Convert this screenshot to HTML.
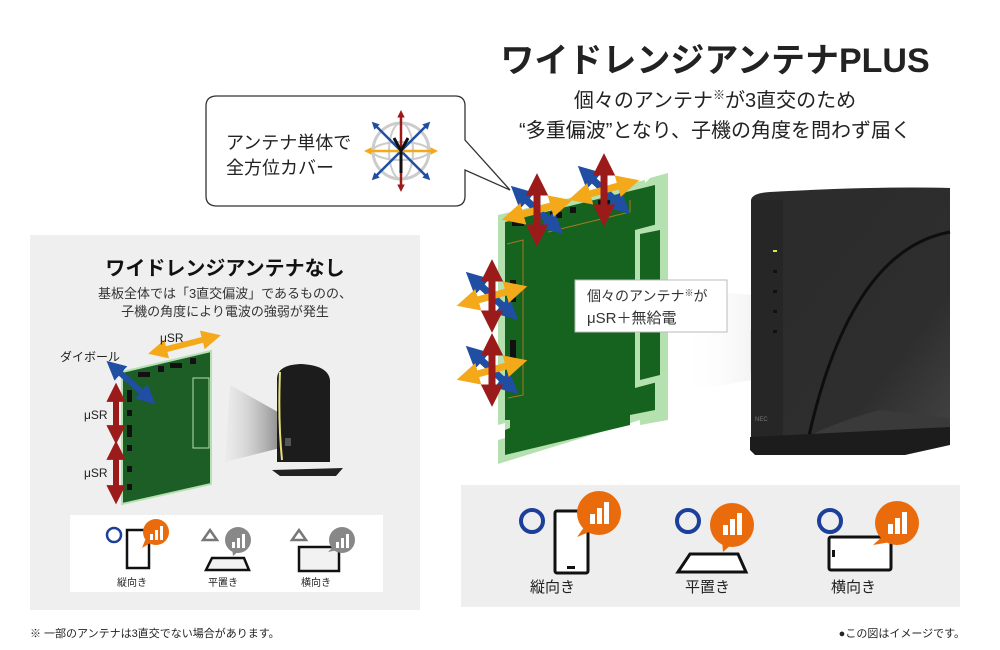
<!DOCTYPE html>
<html><head><meta charset="utf-8"><style>
html,body{margin:0;padding:0;background:#fff}
svg{display:block}
text{font-family:"Liberation Sans","Noto Sans CJK JP",sans-serif}
</style></head><body>
<svg width="1000" height="650" viewBox="0 0 1000 650" xmlns="http://www.w3.org/2000/svg">
<defs>
<marker id="hr" viewBox="0 0 10 10" refX="2" refY="5" markerWidth="3.2" markerHeight="3.2" orient="auto-start-reverse"><path d="M0,0L10,5L0,10z" fill="#9b1b1b"/></marker>
<marker id="hb" viewBox="0 0 10 10" refX="2" refY="5" markerWidth="3.2" markerHeight="3.2" orient="auto-start-reverse"><path d="M0,0L10,5L0,10z" fill="#1f4ea3"/></marker>
<marker id="ho" viewBox="0 0 10 10" refX="2" refY="5" markerWidth="3.2" markerHeight="3.2" orient="auto-start-reverse"><path d="M0,0L10,5L0,10z" fill="#f3a91a"/></marker>
<marker id="gr" viewBox="0 0 10 10" refX="2" refY="5" markerWidth="3" markerHeight="3" orient="auto-start-reverse"><path d="M0,0L10,5L0,10z" fill="#9b1b1b"/></marker>
<marker id="gb" viewBox="0 0 10 10" refX="2" refY="5" markerWidth="3" markerHeight="3" orient="auto-start-reverse"><path d="M0,0L10,5L0,10z" fill="#1f4ea3"/></marker>
<marker id="go" viewBox="0 0 10 10" refX="2" refY="5" markerWidth="3" markerHeight="3" orient="auto-start-reverse"><path d="M0,0L10,5L0,10z" fill="#f3a91a"/></marker>
<marker id="sr" viewBox="0 0 10 10" refX="2" refY="5" markerWidth="3.2" markerHeight="3.2" orient="auto-start-reverse"><path d="M0,0L10,5L0,10z" fill="#9b1b1b"/></marker>
<marker id="sb" viewBox="0 0 10 10" refX="2" refY="5" markerWidth="3.2" markerHeight="3.2" orient="auto-start-reverse"><path d="M0,0L10,5L0,10z" fill="#1f4ea3"/></marker>
<marker id="so" viewBox="0 0 10 10" refX="2" refY="5" markerWidth="3.2" markerHeight="3.2" orient="auto-start-reverse"><path d="M0,0L10,5L0,10z" fill="#f3a91a"/></marker>
<linearGradient id="cone" x1="0" x2="1"><stop offset="0" stop-color="#fff" stop-opacity="0"/><stop offset="1" stop-color="#e0e0e0"/></linearGradient>
<linearGradient id="cone2" x1="0" x2="1"><stop offset="0" stop-color="#ddd" stop-opacity="0.2"/><stop offset="1" stop-color="#666"/></linearGradient>
<linearGradient id="rt" x1="0" x2="1" y1="0" y2="1"><stop offset="0" stop-color="#2b2b2b"/><stop offset="0.7" stop-color="#2e2e2e"/><stop offset="1" stop-color="#444"/></linearGradient>
<g id="arr">
<line x1="-13" y1="-12" x2="13" y2="12" stroke="#1f4ea3" stroke-width="7" marker-start="url(#hb)" marker-end="url(#hb)"/>
<line x1="-18" y1="5" x2="18" y2="-5" stroke="#f3a91a" stroke-width="7" marker-start="url(#ho)" marker-end="url(#ho)"/>
<line x1="0" y1="-19" x2="0" y2="19" stroke="#9b1b1b" stroke-width="7" marker-start="url(#hr)" marker-end="url(#hr)"/>
</g>
</defs>

<text x="715" y="72" text-anchor="middle" font-size="34" font-weight="bold" fill="#222">ワイドレンジアンテナPLUS</text>
<text x="715" y="107" text-anchor="middle" font-size="20" fill="#222">個々のアンテナ<tspan font-size="12" dy="-8">※</tspan><tspan dy="8">が3直交のため</tspan></text>
<text x="715" y="137" text-anchor="middle" font-size="20" fill="#222">“多重偏波”となり、子機の角度を問わず届く</text>

<path d="M217,96 H455 Q465,96 465,106 V140 L510,190 L465,170 V196 Q465,206 455,206 H217 Q206,206 206,196 V106 Q206,96 217,96Z" fill="#fff" stroke="#333" stroke-width="1.3"/>
<text x="226" y="149" font-size="18" fill="#222">アンテナ単体で</text>
<text x="226" y="174" font-size="18" fill="#222">全方位カバー</text>
<g transform="translate(401,151)">
<circle r="28" fill="none" stroke="#ccc" stroke-width="3"/>
<ellipse rx="12" ry="28" fill="none" stroke="#ccc" stroke-width="2"/>
<ellipse rx="28" ry="9" fill="none" stroke="#ccc" stroke-width="2"/>
<line x1="-25" y1="-25" x2="25" y2="25" stroke="#1f4ea3" stroke-width="2.5" marker-start="url(#gb)" marker-end="url(#gb)"/>
<line x1="25" y1="-25" x2="-25" y2="25" stroke="#1f4ea3" stroke-width="2.5" marker-start="url(#gb)" marker-end="url(#gb)"/>
<line x1="-31" y1="0" x2="31" y2="0" stroke="#f3a91a" stroke-width="2.5" marker-start="url(#go)" marker-end="url(#go)"/>
<line x1="0" y1="-35" x2="0" y2="35" stroke="#9b1b1b" stroke-width="2.5" marker-start="url(#gr)" marker-end="url(#gr)"/>
<path d="M-7,-13 L0,0 L7,-13 M0,-1 V22" stroke="#111" stroke-width="3" fill="none"/>
</g>

<rect x="30" y="235" width="390" height="375" fill="#efefef"/>
<text x="225" y="275" text-anchor="middle" font-size="20" font-weight="bold" fill="#111">ワイドレンジアンテナなし</text>
<text x="225" y="298" text-anchor="middle" font-size="13" fill="#333">基板全体では「3直交偏波」であるものの、</text>
<text x="225" y="316" text-anchor="middle" font-size="13" fill="#333">子機の角度により電波の強弱が発生</text>
<polygon points="230,385 292,420 292,445 225,462" fill="url(#cone2)"/>
<polygon points="122,372 211,351 211,484 122,504" fill="#1c5e26" stroke="#b5e0b0" stroke-width="2"/>
<rect x="193" y="378" width="16" height="70" fill="none" stroke="#b5e0b0" stroke-width="1"/>
<g fill="#111"><rect x="138" y="372" width="12" height="5"/><rect x="158" y="366" width="6" height="6"/><rect x="170" y="363" width="12" height="5"/><rect x="190" y="358" width="6" height="6"/>
<rect x="127" y="390" width="5" height="12"/><rect x="127" y="410" width="5" height="6"/><rect x="127" y="425" width="5" height="12"/><rect x="127" y="445" width="5" height="6"/><rect x="127" y="466" width="5" height="6"/><rect x="127" y="484" width="5" height="6"/></g>
<line x1="163" y1="350" x2="206" y2="339" stroke="#f3a91a" stroke-width="6" marker-start="url(#so)" marker-end="url(#so)"/>
<line x1="118" y1="371" x2="144" y2="394" stroke="#1f4ea3" stroke-width="6" marker-start="url(#sb)" marker-end="url(#sb)"/>
<line x1="116" y1="398" x2="116" y2="429" stroke="#9b1b1b" stroke-width="6" marker-start="url(#sr)" marker-end="url(#sr)"/>
<line x1="116" y1="456" x2="116" y2="489" stroke="#9b1b1b" stroke-width="6" marker-start="url(#sr)" marker-end="url(#sr)"/>
<text x="160" y="342" font-size="12" fill="#222">μSR</text>
<text x="60" y="361" font-size="12" fill="#222">ダイボール</text>
<text x="84" y="419" font-size="12" fill="#222">μSR</text>
<text x="84" y="477" font-size="12" fill="#222">μSR</text>
<path d="M277,378 Q278,365 300,364 Q328,365 330,380 V462 H277Z" fill="#1c1c1c"/>
<path d="M280,372 Q278,420 282,460" stroke="#e8e07a" stroke-width="2" fill="none"/>
<polygon points="272,470 343,468 336,476 280,476" fill="#222"/>
<rect x="285" y="438" width="6" height="8" fill="#555"/>
<rect x="70" y="515" width="313" height="77" fill="#fff"/>
<circle cx="114" cy="535" r="7" fill="none" stroke="#1b3f9a" stroke-width="2.5"/>
<rect x="127" y="530" width="22" height="38" fill="#fff" stroke="#111" stroke-width="2.5"/>
<circle cx="156" cy="532" r="13" fill="#e96b0c"/><path d="M146,538 L142,548 L152,542z" fill="#e96b0c"/>
<g fill="#fff"><rect x="150" y="534" width="3" height="6"/><rect x="155" y="530" width="3" height="10"/><rect x="160" y="526" width="3" height="14"/></g>
<text x="117" y="586" font-size="10" fill="#222">縦向き</text>
<path d="M203,540 L210,530 L217,540z" fill="none" stroke="#777" stroke-width="2.5"/>
<circle cx="238" cy="540" r="13" fill="#888"/><path d="M232,548 L233,556 L240,550z" fill="#888"/>
<g fill="#fff"><rect x="232" y="542" width="3" height="6"/><rect x="237" y="538" width="3" height="10"/><rect x="242" y="534" width="3" height="14"/></g>
<polygon points="206,570 212,558 244,558 249,570" fill="#f2f2f2" stroke="#111" stroke-width="2.5"/>
<text x="208" y="586" font-size="10" fill="#222">平置き</text>
<path d="M292,540 L299,530 L306,540z" fill="none" stroke="#777" stroke-width="2.5"/>
<rect x="299" y="547" width="40" height="24" fill="#f2f2f2" stroke="#111" stroke-width="2.5"/>
<circle cx="342" cy="540" r="13" fill="#888"/><path d="M334,546 L328,552 L338,550z" fill="#888"/>
<g fill="#fff"><rect x="336" y="542" width="3" height="6"/><rect x="341" y="538" width="3" height="10"/><rect x="346" y="534" width="3" height="14"/></g>
<text x="301" y="586" font-size="10" fill="#222">横向き</text>

<polygon points="700,290 800,300 800,372 680,392" fill="url(#cone)"/>
<polygon points="750,330 800,362 750,372" fill="#e6e6e6"/>
<polygon points="498,215 645,180 645,183 650,178 668,173 668,420 640,425 640,420 498,464 498,440 505,438 505,423 498,425" fill="#b5e0b0"/>
<polygon points="505,222 655,185 655,410 630,415 630,425 505,455 505,430 510,428 510,420 505,420" fill="#16631f"/>
<polygon points="635,230 665,222 665,380 635,388" fill="#b5e0b0"/>
<polygon points="640,234 660,230 660,375 640,380" fill="#16631f"/>
<path d="M507,244 L523,240 V395 L508,398" stroke="#a57a22" stroke-width="1" fill="none"/>
<path d="M548,232 L630,212 V200" stroke="#a57a22" stroke-width="1" fill="none"/>
<g fill="#111"><rect x="512" y="220" width="12" height="6"/><rect x="550" y="212" width="12" height="6"/><rect x="570" y="207" width="6" height="6"/><rect x="598" y="200" width="12" height="6"/>
<rect x="510" y="280" width="6" height="22"/><rect x="510" y="340" width="6" height="22"/></g>
<use href="#arr" transform="translate(537,210)"/>
<use href="#arr" transform="translate(604,190)"/>
<use href="#arr" transform="translate(492,296)"/>
<use href="#arr" transform="translate(492,370)"/>
<rect x="575" y="280" width="152" height="52" fill="#fff" stroke="#bbb" stroke-width="1"/>
<text x="587" y="301" font-size="14" fill="#333">個々のアンテナ<tspan font-size="9" dy="-5">※</tspan><tspan dy="5">が</tspan></text>
<text x="587" y="323" font-size="15" fill="#333">μSR＋無給電</text>
<path d="M751,200 Q752,193 770,192 Q880,186 950,188 V440 L905,445 H760 Q751,445 751,438Z" fill="url(#rt)"/>
<rect x="751" y="200" width="32" height="245" fill="#262626"/>
<path d="M950,232 Q850,250 808,440" stroke="#0e0e0e" stroke-width="3" fill="none"/>
<path d="M800,440 Q840,420 880,410 L950,418 V440 Z" fill="#3a3a3a"/>
<polygon points="750,437 950,427 950,445 905,455 755,455 750,450" fill="#1c1c1c"/>
<rect x="773" y="250" width="4" height="2" fill="#d8e84a"/>
<g fill="#111"><rect x="773" y="270" width="4" height="3"/><rect x="773" y="290" width="4" height="3"/><rect x="773" y="310" width="4" height="3"/><rect x="773" y="330" width="4" height="3"/></g>
<text x="755" y="421" font-size="6" fill="#777">NEC</text>

<rect x="461" y="485" width="499" height="122" fill="#eeeeee"/>
<g>
<circle cx="532" cy="521" r="11" fill="none" stroke="#1b3f9a" stroke-width="4"/>
<rect x="555" y="511" width="33" height="62" rx="2" fill="#fff" stroke="#111" stroke-width="3"/>
<rect x="567" y="566" width="8" height="3" fill="#111"/>
<circle cx="599" cy="513" r="22" fill="#e96b0c"/><path d="M585,526 L577,537 L594,530z" fill="#e96b0c"/>
<g fill="#fff"><rect x="590" y="514" width="5" height="10"/><rect x="597" y="508" width="5" height="16"/><rect x="604" y="502" width="5" height="22"/></g>
<text x="530" y="592" font-size="15" fill="#222">縦向き</text>
</g>
<g>
<circle cx="688" cy="521" r="11" fill="none" stroke="#1b3f9a" stroke-width="4"/>
<polygon points="678,572 690,554 738,554 746,572" fill="#fff" stroke="#111" stroke-width="3"/>
<circle cx="732" cy="525" r="22" fill="#e96b0c"/><path d="M722,540 L723,552 L733,543z" fill="#e96b0c"/>
<g fill="#fff"><rect x="723" y="525" width="5" height="10"/><rect x="730" y="519" width="5" height="16"/><rect x="737" y="513" width="5" height="22"/></g>
<text x="685" y="592" font-size="15" fill="#222">平置き</text>
</g>
<g>
<circle cx="830" cy="521" r="11" fill="none" stroke="#1b3f9a" stroke-width="4"/>
<rect x="829" y="537" width="62" height="33" rx="2" fill="#fff" stroke="#111" stroke-width="3"/>
<rect x="832" y="550" width="3" height="7" fill="#111"/>
<circle cx="897" cy="523" r="22" fill="#e96b0c"/><path d="M884,535 L873,545 L891,542z" fill="#e96b0c"/>
<g fill="#fff"><rect x="888" y="524" width="5" height="10"/><rect x="895" y="518" width="5" height="16"/><rect x="902" y="512" width="5" height="22"/></g>
<text x="831" y="592" font-size="15" fill="#222">横向き</text>
</g>

<text x="30" y="637" font-size="11" fill="#222">※ 一部のアンテナは3直交でない場合があります。</text>
<text x="965" y="637" text-anchor="end" font-size="11" fill="#222">●この図はイメージです。</text>
</svg>
</body></html>
